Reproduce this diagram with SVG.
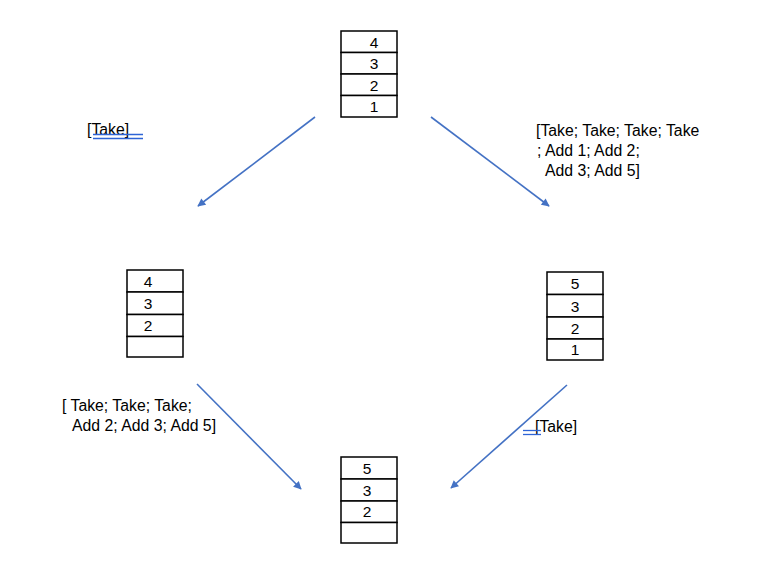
<svg xmlns="http://www.w3.org/2000/svg" width="774" height="582" viewBox="0 0 774 582">
<style>
.cell{fill:#fff;stroke:#000;stroke-width:1.5}
.num{font-family:"Liberation Sans",Arial,sans-serif;font-size:15.5px;fill:#000;text-anchor:middle}
.lbl{font-family:"Liberation Sans",Arial,sans-serif;font-size:15.8px;fill:#000}
.conn{stroke:#4472C4;stroke-width:1.6;fill:none}
.ul{stroke:#2E64D6;stroke-width:1.3}
</style>
<defs>
<marker id="ah" viewBox="0 0 10 10" refX="9" refY="5" markerWidth="9" markerHeight="8" markerUnits="userSpaceOnUse" orient="auto">
<path d="M0,0 L10,5 L0,10 z" fill="#4472C4"/>
</marker>
</defs>
<rect width="774" height="582" fill="#fff"/>
<g id="connectors">
<line class="conn" x1="315" y1="117" x2="198" y2="206" marker-end="url(#ah)"/>
<line class="conn" x1="431" y1="117" x2="549" y2="206" marker-end="url(#ah)"/>
<line class="conn" x1="197" y1="384" x2="301" y2="489" marker-end="url(#ah)"/>
<line class="conn" x1="567" y1="385" x2="451" y2="488" marker-end="url(#ah)"/>
</g>
<g id="stack-top">
<rect class="cell" x="341" y="31" width="56" height="21.5"/>
<rect class="cell" x="341" y="52.5" width="56" height="21.5"/>
<rect class="cell" x="341" y="74" width="56" height="21.5"/>
<rect class="cell" x="341" y="95.5" width="56" height="21.5"/>
<text class="num" x="374" y="47.5">4</text>
<text class="num" x="374" y="69">3</text>
<text class="num" x="374" y="90.5">2</text>
<text class="num" x="374" y="112">1</text>
</g>
<g id="stack-left">
<rect class="cell" x="127" y="270" width="56" height="22"/>
<rect class="cell" x="127" y="292" width="56" height="22.5"/>
<rect class="cell" x="127" y="314.5" width="56" height="22"/>
<rect class="cell" x="127" y="336.5" width="56" height="20.5"/>
<text class="num" x="148" y="286.5">4</text>
<text class="num" x="148" y="309">3</text>
<text class="num" x="148" y="331">2</text>
</g>
<g id="stack-right">
<rect class="cell" x="547" y="272" width="56" height="22.5"/>
<rect class="cell" x="547" y="294.5" width="56" height="22.5"/>
<rect class="cell" x="547" y="317" width="56" height="22"/>
<rect class="cell" x="547" y="339" width="56" height="21"/>
<text class="num" x="575" y="289">5</text>
<text class="num" x="575" y="311.5">3</text>
<text class="num" x="575" y="333.5">2</text>
<text class="num" x="575" y="355">1</text>
</g>
<g id="stack-bottom">
<rect class="cell" x="341" y="457" width="56" height="22"/>
<rect class="cell" x="341" y="479" width="56" height="22"/>
<rect class="cell" x="341" y="501" width="56" height="21.5"/>
<rect class="cell" x="341" y="522.5" width="56" height="20.5"/>
<text class="num" x="367" y="473.5">5</text>
<text class="num" x="367" y="495.5">3</text>
<text class="num" x="367" y="517">2</text>
</g>
<g id="label-topleft">
<text class="lbl" x="87" y="135">[Take]</text>
<line class="ul" x1="93" y1="134.5" x2="143" y2="134.5"/>
<line class="ul" x1="93" y1="138.5" x2="143" y2="138.5"/>
</g>
<g id="label-topright">
<text class="lbl" x="536" y="136">[Take; Take; Take; Take</text>
<text class="lbl" x="537" y="156">; Add 1; Add 2;</text>
<text class="lbl" x="545" y="176">Add 3; Add 5]</text>
</g>
<g id="label-bottomleft">
<text class="lbl" x="62" y="411">[ Take; Take; Take;</text>
<text class="lbl" x="72" y="431">Add 2; Add 3; Add 5]</text>
</g>
<g id="label-bottomright">
<text class="lbl" x="535" y="432">[Take]</text>
<line class="ul" x1="523" y1="430.5" x2="541" y2="430.5"/>
<line class="ul" x1="523" y1="434.5" x2="541" y2="434.5"/>
</g>
</svg>
